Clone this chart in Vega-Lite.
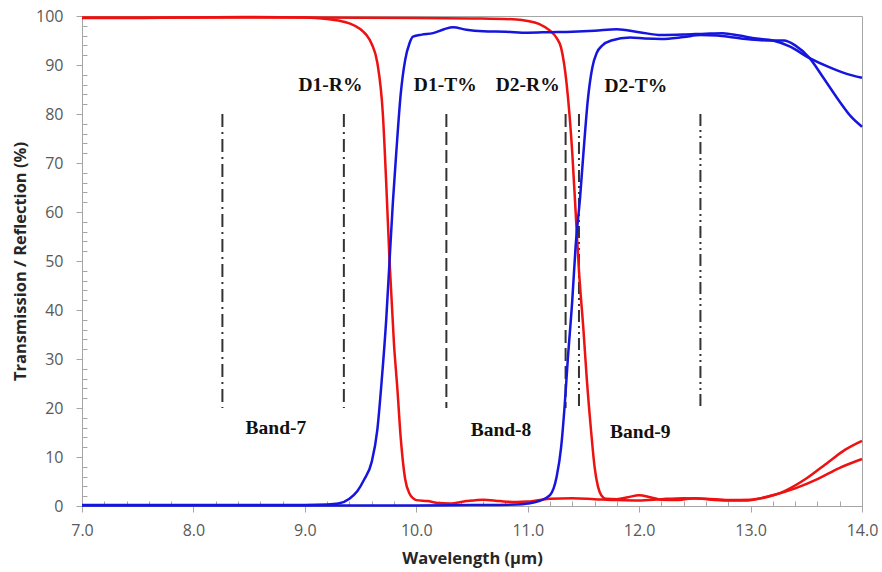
{
  "$schema": "https://vega.github.io/schema/vega-lite/v6.json",
  "width": 780,
  "height": 490,
  "autosize": {"type": "none"},
  "padding": {"left": 82, "top": 16, "right": 20, "bottom": 66},
  "background": "white",
  "config": {
    "view": {"stroke": "#a6a6a6", "strokeWidth": 1},
    "axis": {
      "grid": false,
      "labelFlush": false,
      "domainColor": "#a6a6a6",
      "tickColor": "#a6a6a6",
      "labelFont": "Open Sans",
      "labelFontSize": 16,
      "labelColor": "#595959",
      "titleFont": "Open Sans",
      "titleFontSize": 16.5,
      "titleFontWeight": "bold",
      "titleColor": "#262626"
    }
  },
  "datasets": {
    "curves": [
      {"series": "D1-R", "x": 7.0, "y": 99.6}, {"series": "D1-R", "x": 7.5, "y": 99.6}, {"series": "D1-R", "x": 8.0, "y": 99.7}, {"series": "D1-R", "x": 8.5, "y": 99.8}, {"series": "D1-R", "x": 9.0, "y": 99.7}, {"series": "D1-R", "x": 9.2, "y": 99.4}, {"series": "D1-R", "x": 9.3, "y": 99.1}, {"series": "D1-R", "x": 9.4, "y": 98.5}, {"series": "D1-R", "x": 9.5, "y": 97.3}, {"series": "D1-R", "x": 9.55, "y": 96.2}, {"series": "D1-R", "x": 9.6, "y": 94.3}, {"series": "D1-R", "x": 9.65, "y": 90.5}, {"series": "D1-R", "x": 9.7, "y": 80}, {"series": "D1-R", "x": 9.73, "y": 66}, {"series": "D1-R", "x": 9.76, "y": 50}, {"series": "D1-R", "x": 9.8, "y": 33}, {"series": "D1-R", "x": 9.83, "y": 24}, {"series": "D1-R", "x": 9.86, "y": 14}, {"series": "D1-R", "x": 9.9, "y": 5.5}, {"series": "D1-R", "x": 9.94, "y": 2.5}, {"series": "D1-R", "x": 9.97, "y": 1.6}, {"series": "D1-R", "x": 10.0, "y": 1.2}, {"series": "D1-R", "x": 10.1, "y": 1.0}, {"series": "D1-R", "x": 10.2, "y": 0.6}, {"series": "D1-R", "x": 10.3, "y": 0.5}, {"series": "D1-R", "x": 10.45, "y": 1.0}, {"series": "D1-R", "x": 10.6, "y": 1.3}, {"series": "D1-R", "x": 10.75, "y": 1.0}, {"series": "D1-R", "x": 10.9, "y": 0.8}, {"series": "D1-R", "x": 11.0, "y": 0.9}, {"series": "D1-R", "x": 11.2, "y": 1.5}, {"series": "D1-R", "x": 11.4, "y": 1.6}, {"series": "D1-R", "x": 11.6, "y": 1.4}, {"series": "D1-R", "x": 11.8, "y": 1.2}, {"series": "D1-R", "x": 12.0, "y": 1.1}, {"series": "D1-R", "x": 12.2, "y": 1.4}, {"series": "D1-R", "x": 12.4, "y": 1.6}, {"series": "D1-R", "x": 12.6, "y": 1.5}, {"series": "D1-R", "x": 12.8, "y": 1.2}, {"series": "D1-R", "x": 13.0, "y": 1.3}, {"series": "D1-R", "x": 13.2, "y": 2.2}, {"series": "D1-R", "x": 13.4, "y": 3.6}, {"series": "D1-R", "x": 13.6, "y": 5.5}, {"series": "D1-R", "x": 13.8, "y": 7.8}, {"series": "D1-R", "x": 14.0, "y": 9.6},
      {"series": "D2-R", "x": 7.0, "y": 99.7}, {"series": "D2-R", "x": 8.0, "y": 99.7}, {"series": "D2-R", "x": 9.0, "y": 99.7}, {"series": "D2-R", "x": 10.0, "y": 99.6}, {"series": "D2-R", "x": 10.5, "y": 99.5}, {"series": "D2-R", "x": 10.9, "y": 99.3}, {"series": "D2-R", "x": 11.0, "y": 99.0}, {"series": "D2-R", "x": 11.1, "y": 98.4}, {"series": "D2-R", "x": 11.2, "y": 97.0}, {"series": "D2-R", "x": 11.26, "y": 95.5}, {"series": "D2-R", "x": 11.3, "y": 93.5}, {"series": "D2-R", "x": 11.35, "y": 86}, {"series": "D2-R", "x": 11.4, "y": 72}, {"series": "D2-R", "x": 11.43, "y": 60}, {"series": "D2-R", "x": 11.46, "y": 48}, {"series": "D2-R", "x": 11.5, "y": 36}, {"series": "D2-R", "x": 11.53, "y": 26}, {"series": "D2-R", "x": 11.57, "y": 15}, {"series": "D2-R", "x": 11.6, "y": 8}, {"series": "D2-R", "x": 11.63, "y": 4}, {"series": "D2-R", "x": 11.66, "y": 2.2}, {"series": "D2-R", "x": 11.7, "y": 1.5}, {"series": "D2-R", "x": 11.8, "y": 1.4}, {"series": "D2-R", "x": 11.9, "y": 1.8}, {"series": "D2-R", "x": 12.0, "y": 2.2}, {"series": "D2-R", "x": 12.1, "y": 1.8}, {"series": "D2-R", "x": 12.2, "y": 1.3}, {"series": "D2-R", "x": 12.35, "y": 1.2}, {"series": "D2-R", "x": 12.5, "y": 1.6}, {"series": "D2-R", "x": 12.65, "y": 1.3}, {"series": "D2-R", "x": 12.8, "y": 1.1}, {"series": "D2-R", "x": 12.95, "y": 1.1}, {"series": "D2-R", "x": 13.1, "y": 1.6}, {"series": "D2-R", "x": 13.3, "y": 3.0}, {"series": "D2-R", "x": 13.5, "y": 5.6}, {"series": "D2-R", "x": 13.7, "y": 9.0}, {"series": "D2-R", "x": 13.85, "y": 11.5}, {"series": "D2-R", "x": 14.0, "y": 13.3},
      {"series": "D1-T", "x": 7.0, "y": 0.2}, {"series": "D1-T", "x": 8.0, "y": 0.2}, {"series": "D1-T", "x": 9.0, "y": 0.2}, {"series": "D1-T", "x": 9.2, "y": 0.3}, {"series": "D1-T", "x": 9.3, "y": 0.5}, {"series": "D1-T", "x": 9.4, "y": 1.5}, {"series": "D1-T", "x": 9.47, "y": 3}, {"series": "D1-T", "x": 9.53, "y": 5.3}, {"series": "D1-T", "x": 9.6, "y": 9}, {"series": "D1-T", "x": 9.65, "y": 15.5}, {"series": "D1-T", "x": 9.69, "y": 25.7}, {"series": "D1-T", "x": 9.73, "y": 38}, {"series": "D1-T", "x": 9.76, "y": 50}, {"series": "D1-T", "x": 9.79, "y": 62}, {"series": "D1-T", "x": 9.82, "y": 72}, {"series": "D1-T", "x": 9.86, "y": 84}, {"series": "D1-T", "x": 9.9, "y": 91}, {"series": "D1-T", "x": 9.94, "y": 94.5}, {"series": "D1-T", "x": 9.97, "y": 95.8}, {"series": "D1-T", "x": 10.05, "y": 96.2}, {"series": "D1-T", "x": 10.15, "y": 96.5}, {"series": "D1-T", "x": 10.25, "y": 97.3}, {"series": "D1-T", "x": 10.33, "y": 97.7}, {"series": "D1-T", "x": 10.45, "y": 97.2}, {"series": "D1-T", "x": 10.6, "y": 96.9}, {"series": "D1-T", "x": 10.8, "y": 96.8}, {"series": "D1-T", "x": 11.0, "y": 96.6}, {"series": "D1-T", "x": 11.2, "y": 96.7}, {"series": "D1-T", "x": 11.4, "y": 96.8}, {"series": "D1-T", "x": 11.6, "y": 97.0}, {"series": "D1-T", "x": 11.8, "y": 97.3}, {"series": "D1-T", "x": 12.0, "y": 96.7}, {"series": "D1-T", "x": 12.2, "y": 96.1}, {"series": "D1-T", "x": 12.4, "y": 96.2}, {"series": "D1-T", "x": 12.6, "y": 96.4}, {"series": "D1-T", "x": 12.75, "y": 96.5}, {"series": "D1-T", "x": 12.9, "y": 96.0}, {"series": "D1-T", "x": 13.05, "y": 95.4}, {"series": "D1-T", "x": 13.2, "y": 95.0}, {"series": "D1-T", "x": 13.35, "y": 93.8}, {"series": "D1-T", "x": 13.53, "y": 91.4}, {"series": "D1-T", "x": 13.7, "y": 89.6}, {"series": "D1-T", "x": 13.85, "y": 88.3}, {"series": "D1-T", "x": 14.0, "y": 87.4},
      {"series": "D2-T", "x": 7.0, "y": 0.1}, {"series": "D2-T", "x": 8.0, "y": 0.1}, {"series": "D2-T", "x": 9.0, "y": 0.1}, {"series": "D2-T", "x": 10.0, "y": 0.1}, {"series": "D2-T", "x": 10.5, "y": 0.2}, {"series": "D2-T", "x": 10.9, "y": 0.3}, {"series": "D2-T", "x": 11.0, "y": 0.5}, {"series": "D2-T", "x": 11.1, "y": 1.0}, {"series": "D2-T", "x": 11.2, "y": 2.2}, {"series": "D2-T", "x": 11.26, "y": 6}, {"series": "D2-T", "x": 11.3, "y": 12}, {"series": "D2-T", "x": 11.33, "y": 20}, {"series": "D2-T", "x": 11.36, "y": 30}, {"series": "D2-T", "x": 11.4, "y": 42}, {"series": "D2-T", "x": 11.43, "y": 53}, {"series": "D2-T", "x": 11.47, "y": 63}, {"series": "D2-T", "x": 11.5, "y": 72}, {"series": "D2-T", "x": 11.54, "y": 83}, {"series": "D2-T", "x": 11.58, "y": 89.5}, {"series": "D2-T", "x": 11.62, "y": 92.5}, {"series": "D2-T", "x": 11.67, "y": 94}, {"series": "D2-T", "x": 11.75, "y": 95.0}, {"series": "D2-T", "x": 11.92, "y": 95.6}, {"series": "D2-T", "x": 12.05, "y": 95.4}, {"series": "D2-T", "x": 12.2, "y": 95.3}, {"series": "D2-T", "x": 12.4, "y": 95.7}, {"series": "D2-T", "x": 12.55, "y": 96.1}, {"series": "D2-T", "x": 12.7, "y": 96.0}, {"series": "D2-T", "x": 12.85, "y": 95.6}, {"series": "D2-T", "x": 13.0, "y": 95.2}, {"series": "D2-T", "x": 13.15, "y": 95.0}, {"series": "D2-T", "x": 13.3, "y": 95.0}, {"series": "D2-T", "x": 13.4, "y": 94.0}, {"series": "D2-T", "x": 13.53, "y": 91.4}, {"series": "D2-T", "x": 13.65, "y": 87.5}, {"series": "D2-T", "x": 13.8, "y": 82.5}, {"series": "D2-T", "x": 13.9, "y": 79.5}, {"series": "D2-T", "x": 14.0, "y": 77.4}
    ],
    "bands": [
      {"x": 8.26, "top": 80, "bottom": 20, "kind": "dash-dot"},
      {"x": 9.35, "top": 80, "bottom": 20, "kind": "dash-dot"},
      {"x": 10.27, "top": 80, "bottom": 20, "kind": "dash"},
      {"x": 11.34, "top": 80, "bottom": 20, "kind": "dash"},
      {"x": 11.46, "top": 80, "bottom": 20, "kind": "dash-dot-dot"},
      {"x": 12.55, "top": 80, "bottom": 20, "kind": "dash-dot-dot"}
    ],
    "labels": [
      {"text": "D1-R%", "x": 9.23, "y": 86},
      {"text": "D1-T%", "x": 10.26, "y": 86},
      {"text": "D2-R%", "x": 11.0, "y": 86},
      {"text": "D2-T%", "x": 11.97, "y": 85.7},
      {"text": "Band-7", "x": 8.74, "y": 16},
      {"text": "Band-8", "x": 10.76, "y": 15.5},
      {"text": "Band-9", "x": 12.01, "y": 15.1}
    ]
  },
  "layer": [
    {
      "data": {"name": "bands"},
      "mark": {"type": "rule", "color": "#333333", "strokeWidth": 2},
      "encoding": {
        "x": {"field": "x", "type": "quantitative", "scale": {"domain": [7, 14], "nice": false},
          "axis": {"orient": "bottom", "values": [7.2, 7.4, 7.6, 7.8, 8.2, 8.4, 8.6, 8.8, 9.2, 9.4, 9.6, 9.8, 10.2, 10.4, 10.6, 10.8, 11.2, 11.4, 11.6, 11.8, 12.2, 12.4, 12.6, 12.8, 13.2, 13.4, 13.6, 13.8], "labels": false, "domain": false, "tickSize": -5, "title": null}},
        "y": {"field": "top", "type": "quantitative", "scale": {"domain": [0, 100], "nice": false},
          "axis": {"orient": "left", "values": [2, 4, 6, 8, 12, 14, 16, 18, 22, 24, 26, 28, 32, 34, 36, 38, 42, 44, 46, 48, 52, 54, 56, 58, 62, 64, 66, 68, 72, 74, 76, 78, 82, 84, 86, 88, 92, 94, 96, 98], "labels": false, "domain": false, "tickSize": -5, "title": null}},
        "y2": {"field": "bottom"},
        "strokeDash": {"field": "kind", "type": "nominal", "legend": null,
          "scale": {"domain": ["dash-dot", "dash", "dash-dot-dot"], "range": [[13, 5, 2, 5], [13, 5], [12, 4, 2, 4, 2, 4]]}}
      }
    },
    {
      "data": {"name": "curves"},
      "mark": {"type": "line", "strokeWidth": 2.5, "interpolate": "monotone"},
      "encoding": {
        "x": {"field": "x", "type": "quantitative", "scale": {"domain": [7, 14], "nice": false},
          "axis": {"orient": "bottom", "values": [7, 8, 9, 10, 11, 12, 13, 14], "format": ".1f", "tickSize": 6, "labelPadding": 10, "title": "Wavelength (μm)", "titleBaseline": "alphabetic", "titleY": 57}},
        "y": {"field": "y", "type": "quantitative", "scale": {"domain": [0, 100], "nice": false},
          "axis": {"orient": "left", "values": [0, 10, 20, 30, 40, 50, 60, 70, 80, 90, 100], "tickSize": 6, "labelPadding": 13, "title": "Transmission / Reflection (%)", "titleBaseline": "alphabetic", "titleX": -57, "titleY": 245}},
        "detail": {"field": "series", "type": "nominal"},
        "color": {"field": "series", "type": "nominal", "legend": null,
          "scale": {"domain": ["D1-R", "D1-T", "D2-R", "D2-T"], "range": ["#ee1111", "#1515dd", "#ee1111", "#1515dd"]}}
      }
    },
    {
      "data": {"name": "labels"},
      "mark": {"type": "text", "font": "Liberation Serif", "fontWeight": "bold", "fontSize": 19.5, "color": "#111111", "align": "center", "baseline": "middle"},
      "encoding": {
        "x": {"field": "x", "type": "quantitative", "scale": {"domain": [7, 14], "nice": false}, "axis": null},
        "y": {"field": "y", "type": "quantitative", "scale": {"domain": [0, 100], "nice": false}, "axis": null},
        "text": {"field": "text", "type": "nominal"}
      }
    }
  ],
  "resolve": {"axis": {"x": "independent", "y": "independent"}}
}
